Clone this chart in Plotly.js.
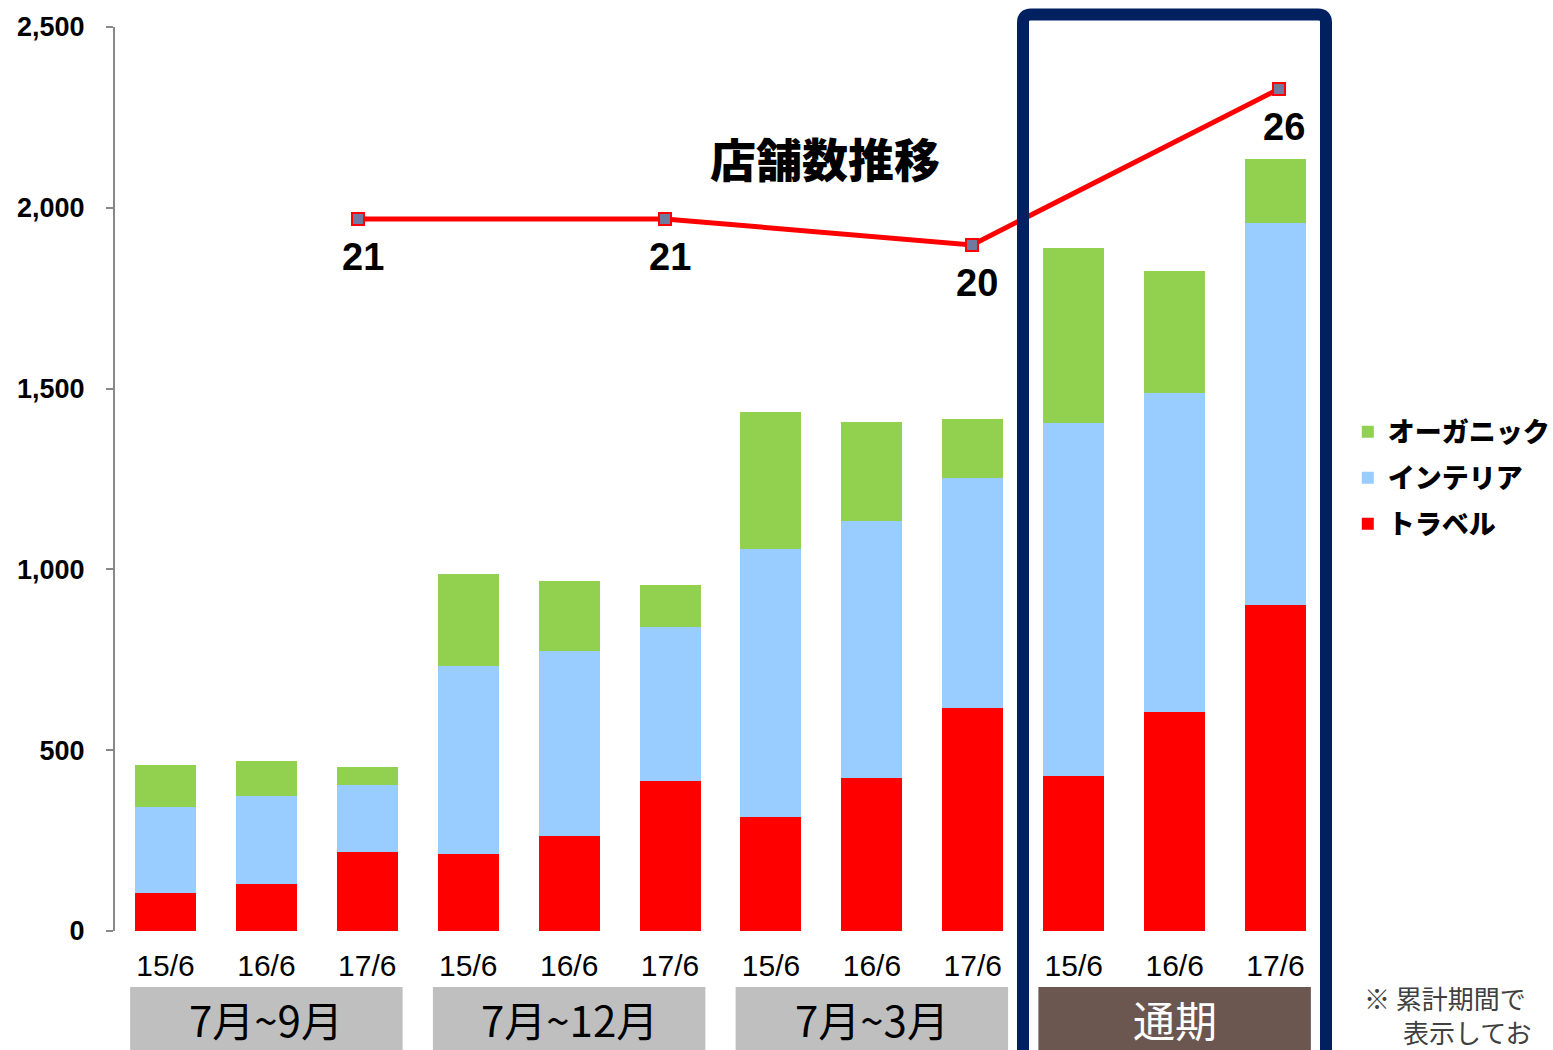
<!DOCTYPE html>
<html>
<head>
<meta charset="utf-8">
<script src="https://cdn.plot.ly/plotly-3.0.1.min.js"></script>
<style>html,body{margin:0;padding:0;background:#fff;}#chart{width:1553px;height:1050px;}</style>
</head>
<body>
<div id="chart"></div>
<script>
// ---- data ----
const periods = ["7月~9月", "7月~12月", "7月~3月", "通期"];
const years = ["15/6", "16/6", "17/6"];
const travel   = [105, 130, 218, 213, 263, 415, 315, 423, 617, 429, 606, 902];
const interior = [238, 243, 186, 520, 511, 426, 741, 711, 636, 976, 882, 1056];
const organic  = [116,  97,  50, 254, 194, 116, 379, 274, 163, 484, 337, 177];
const storeCounts = [21, 21, 20, 26];
const seriesNames = ["トラベル", "インテリア", "オーガニック"];
const seriesColors = ["#ff0000", "#99ccff", "#92d050"];

// category keys (unique) and their tick text
const cats = [];
const catText = [];
periods.forEach(p => years.forEach(y => { cats.push(p + "|" + y); catText.push(y); }));

const JP = "'Noto Sans CJK JP', 'Noto Sans', sans-serif";
const LAT = "'Liberation Sans', Arial, sans-serif";

const traces = [travel, interior, organic].map((vals, i) => ({
  type: "bar",
  name: seriesNames[i],
  x: cats,
  y: vals,
  marker: { color: seriesColors[i], line: { width: 0 } },
  legendgroup: "g" + i,
  legendrank: 3 - i,
  hoverinfo: "skip"
}));

traces.push({
  type: "scatter",
  mode: "lines+markers",
  x: periods,
  y: storeCounts,
  xaxis: "x2",
  yaxis: "y2",
  showlegend: false,
  line: { color: "#ff0000", width: 5 },
  marker: { symbol: "square", size: 12, color: "#6f7a9e", line: { color: "#ff0000", width: 2 } },
  hoverinfo: "skip"
});

const shapes = [];
const annotations = [];
const boxColors = ["#bfbfbf", "#bfbfbf", "#bfbfbf", "#6b5750"];
const boxText = ["#000000", "#000000", "#000000", "#ffffff"];
periods.forEach((p, k) => {
  shapes.push({
    type: "rect", xref: "x", yref: "paper", layer: "below",
    x0: k * 3 - 0.35, x1: k * 3 + 2.35, y0: -0.0619, y1: -0.14,
    fillcolor: boxColors[k], line: { width: 0 }
  });
  annotations.push({
    xref: "x", yref: "paper", x: k * 3 + 1, y: -0.0965, yanchor: "middle",
    text: p, showarrow: false, font: { family: JP, size: 42, color: boxText[k] }
  });
});

// navy highlight frame (rounded top corners, open below the chart)
const fx0 = 0.7498, fx1 = 1.0, fyt = 1.0138, fyb = -0.2, rx = 0.0066, ry = 0.0088;
shapes.push({
  type: "path", xref: "paper", yref: "paper", layer: "above",
  path: `M${fx0},${fyb} L${fx0},${fyt - ry} Q${fx0},${fyt} ${fx0 + rx},${fyt} L${fx1 - rx},${fyt} Q${fx1},${fyt} ${fx1},${fyt - ry} L${fx1},${fyb}`,
  line: { color: "#002060", width: 12 }, fillcolor: "rgba(0,0,0,0)"
});

// store-count labels
storeCounts.forEach((v, i) => {
  annotations.push({
    xref: "x2", yref: "y2", x: periods[i], y: v, xshift: 5, yshift: -38,
    text: String(v), showarrow: false,
    font: { family: "'Liberation Sans Narrow', 'Arial Narrow', 'Liberation Sans', sans-serif", size: 38, color: "#000", weight: "bold" }
  });
});

annotations.push({
  xref: "paper", yref: "paper", x: 0.5863, y: 0.856, xanchor: "center", yanchor: "middle",
  text: "店舗数推移", showarrow: false,
  font: { family: JP, size: 46, color: "#000", weight: 900 }
});
annotations.push({
  xref: "paper", yref: "paper", x: 1.0297, y: -0.0505, xanchor: "left", yanchor: "top",
  align: "left",
  text: "※ 累計期間で<br>　\u2002表示してお", showarrow: false,
  font: { family: JP, size: 26, color: "#404040" }
});

const layout = {
  width: 1553, height: 1050,
  margin: { l: 115, r: 227, t: 27, b: 119, pad: 0, autoexpand: false },
  paper_bgcolor: "#ffffff", plot_bgcolor: "#ffffff",
  barmode: "stack", bargap: 0.395,
  showlegend: true,
  legend: {
    x: 1.018, xanchor: "left", y: 0.501, yanchor: "middle",
    traceorder: "grouped", tracegroupgap: 8,
    font: { family: JP, size: 27, color: "#000", weight: 900 },
    itemwidth: 30, bgcolor: "rgba(0,0,0,0)"
  },
  xaxis: {
    type: "category", categoryorder: "array", categoryarray: cats,
    tickvals: cats, ticktext: catText,
    showline: false, showgrid: false, zeroline: false, ticks: "",
    tickfont: { family: LAT, size: 30, color: "#000" },
    ticklabelstandoff: 14, range: [-0.5, 11.5]
  },
  xaxis2: {
    type: "category", overlaying: "x", range: [-0.7915, 3.153],
    visible: false, showgrid: false
  },
  yaxis: {
    range: [0, 2500], tickvals: [0, 500, 1000, 1500, 2000, 2500], tickformat: ",d",
    showline: true, linecolor: "#888888", linewidth: 2,
    ticks: "outside", ticklen: 7, tickcolor: "#888888", tickwidth: 2,
    showgrid: false, zeroline: false,
    tickfont: { family: LAT, size: 27, color: "#000", weight: "bold" },
    ticklabelstandoff: 16
  },
  yaxis2: {
    overlaying: "y", range: [-6.38, 28.38], visible: false, showgrid: false, zeroline: false
  },
  shapes: shapes,
  annotations: annotations
};

Plotly.newPlot("chart", traces, layout, { displayModeBar: false, staticPlot: true });
</script>
</body>
</html>
